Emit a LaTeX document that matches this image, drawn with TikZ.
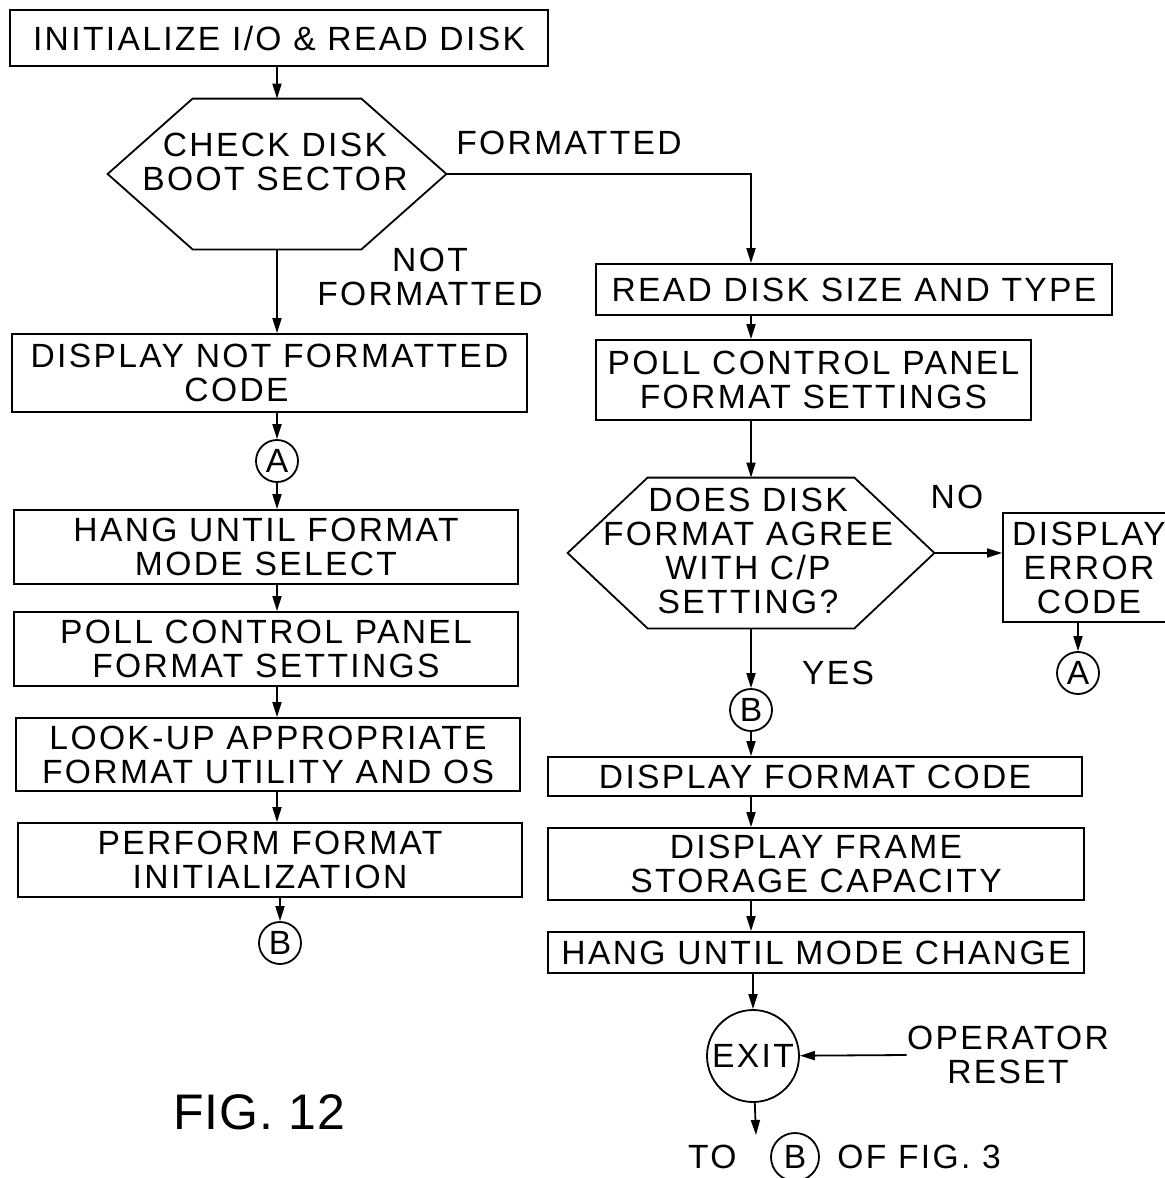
\documentclass[tikz,border=0pt]{standalone}
\usepackage{fontspec}
\newfontfamily\lbl[LetterSpace=7]{Liberation Sans}
\newfontfamily\figfont[LetterSpace=2]{Liberation Sans}
\usetikzlibrary{arrows.meta,calc}
\begin{document}
\begin{tikzpicture}[x=0.5pt,y=-0.5pt,
  txt/.style={font=\lbl\fontsize{16.8pt}{17pt}\selectfont, align=center, inner sep=0pt},
  box/.style={txt, draw, line width=0.9pt},
  hexbox/.style={inner sep=0pt, draw=none},
  circ/.style={txt, draw, circle, line width=0.9pt, minimum size=21pt},
  arr/.style={line width=0.9pt, -{Triangle[length=7.5pt,width=4.5pt]}},
  ln/.style={line width=0.9pt, line join=miter}]
\useasboundingbox (0,0) rectangle (1165,1178);
\fill[white] (0,0) rectangle (1165,1178);
\coordinate (cr) at (751,0);

% left column
\node[box, minimum width=269pt, minimum height=28pt] (b1) at (279,38) {INITIALIZE I/O \& READ DISK};
\node[hexbox, minimum width=169pt, minimum height=75pt] (hex1) at (277,174) {};
\draw[ln] (hex1.west) -- ($(hex1.north west)+(85,0)$) -- ($(hex1.north east)+(-85,0)$) -- (hex1.east)
  -- ($(hex1.south east)+(-85,0)$) -- ($(hex1.south west)+(85,0)$) -- cycle;
\node[txt] (hex1t) at (275,162) {CHECK DISK\\BOOT SECTOR};
\node[box, minimum width=257.5pt, minimum height=39pt] (dnf) at (269.5,373) {DISPLAY NOT FORMATTED\\CODE\hspace*{33pt}};
\node[circ] (a1) at (277,461) {A};
\node[box, minimum width=252pt, minimum height=37pt] (hang) at (266,547) {HANG UNTIL FORMAT\\MODE SELECT};
\node[box, minimum width=252pt, minimum height=37pt] (pollL) at (266,649) {POLL CONTROL PANEL\\FORMAT SETTINGS};
\node[box, minimum width=252pt, minimum height=36.5pt] (look) at (268,754.5) {LOOK-UP APPROPRIATE\\FORMAT UTILITY AND OS};
\node[box, minimum width=252pt, minimum height=37pt] (perf) at (270,860) {PERFORM FORMAT\\INITIALIZATION};
\node[circ] (bL) at (280,943) {B};

% right column
\node[box, minimum width=258pt, minimum height=25.5pt] (read) at (854,289.5) {READ DISK SIZE AND TYPE};
\node[box, minimum width=217.5pt, minimum height=40pt] (pollR) at (813.5,380) {POLL CONTROL PANEL\\FORMAT SETTINGS};
\node[hexbox, minimum width=183pt, minimum height=75pt] (hex2) at (751,553) {};
\draw[ln] (hex2.west) -- ($(hex2.north west)+(80,0)$) -- ($(hex2.north east)+(-80,0)$) -- (hex2.east)
  -- ($(hex2.south east)+(-80,0)$) -- ($(hex2.south west)+(80,0)$) -- cycle;
\node[txt] (hex2t) at (748,551) {DOES DISK\\FORMAT AGREE\\WITH C/P\\SETTING?};
\node[box, minimum width=86pt, minimum height=54.5pt] (err) at (1089,567.5) {DISPLAY\\ERROR\\CODE};
\node[circ] (a2) at (1078,673) {A};
\node[circ] (b2) at (751,710) {B};
\node[box, minimum width=267pt, minimum height=19.5pt] (dfc) at (815,776.5) {DISPLAY FORMAT CODE};
\node[box, minimum width=268pt, minimum height=36pt] (dfsc) at (816,864) {DISPLAY FRAME\\STORAGE CAPACITY};
\node[box, minimum width=268pt, minimum height=20.5pt] (hang2) at (816,952.5) {HANG UNTIL MODE CHANGE};
\node[circ, minimum size=46pt] (exit) at (753,1056) {EXIT};
\node[txt] (op) at (1008,1055) {OPERATOR\\RESET};
\coordinate (exitend) at (756,1135);
\node[txt, anchor=east] (to) at (737,1157) {TO};
\node[circ, minimum size=24pt] (b3) at (795,1157) {B};
\node[txt, anchor=west] (offig) at (837,1157) {OF FIG. 3};

% labels
\node[txt] (lf) at (569,143) {FORMATTED};
\node[txt] (lnf) at (430,277) {NOT\\FORMATTED};
\node[txt] (lno) at (957,497) {NO};
\node[txt] (lyes) at (838,673) {YES};
\node[font=\figfont\fontsize{25pt}{30pt}\selectfont, inner sep=0pt] (fig) at (259,1112) {FIG.\ 12};

% connectors
\draw[arr] (b1.south -| hex1.north) -- (hex1.north);
\draw[arr] (hex1.east) -| (read.north -| cr);
\draw[arr] (hex1.south) -- (dnf.north -| hex1.south);
\draw[arr] (dnf.south -| a1) -- (a1);
\draw[arr] (a1) -- (hang.north -| a1);
\draw[arr] (hang.south -| a1) -- (pollL.north -| a1);
\draw[arr] (pollL.south -| a1) -- (look.north -| a1);
\draw[arr] (look.south -| a1) -- (perf.north -| a1);
\draw[arr] (perf.south -| bL) -- (bL);
\draw[arr] (read.south -| cr) -- (pollR.north -| cr);
\draw[arr] (pollR.south -| cr) -- (hex2.north -| cr);
\draw[arr] (hex2.east) -- (hex2.east -| err.west);
\draw[arr] (err.south -| a2) -- (a2);
\draw[arr] (hex2.south) -- (b2);
\draw[arr] (b2) -- (dfc.north -| b2);
\draw[arr] (dfc.south -| b2) -- (dfsc.north -| b2);
\draw[arr] (dfsc.south -| b2) -- (hang2.north -| b2);
\draw[arr] (hang2.south -| exit) -- (exit);
\draw[arr] (op.west) -- (exit);
\draw[arr] (exit) -- (exitend);
\end{tikzpicture}
\end{document}
